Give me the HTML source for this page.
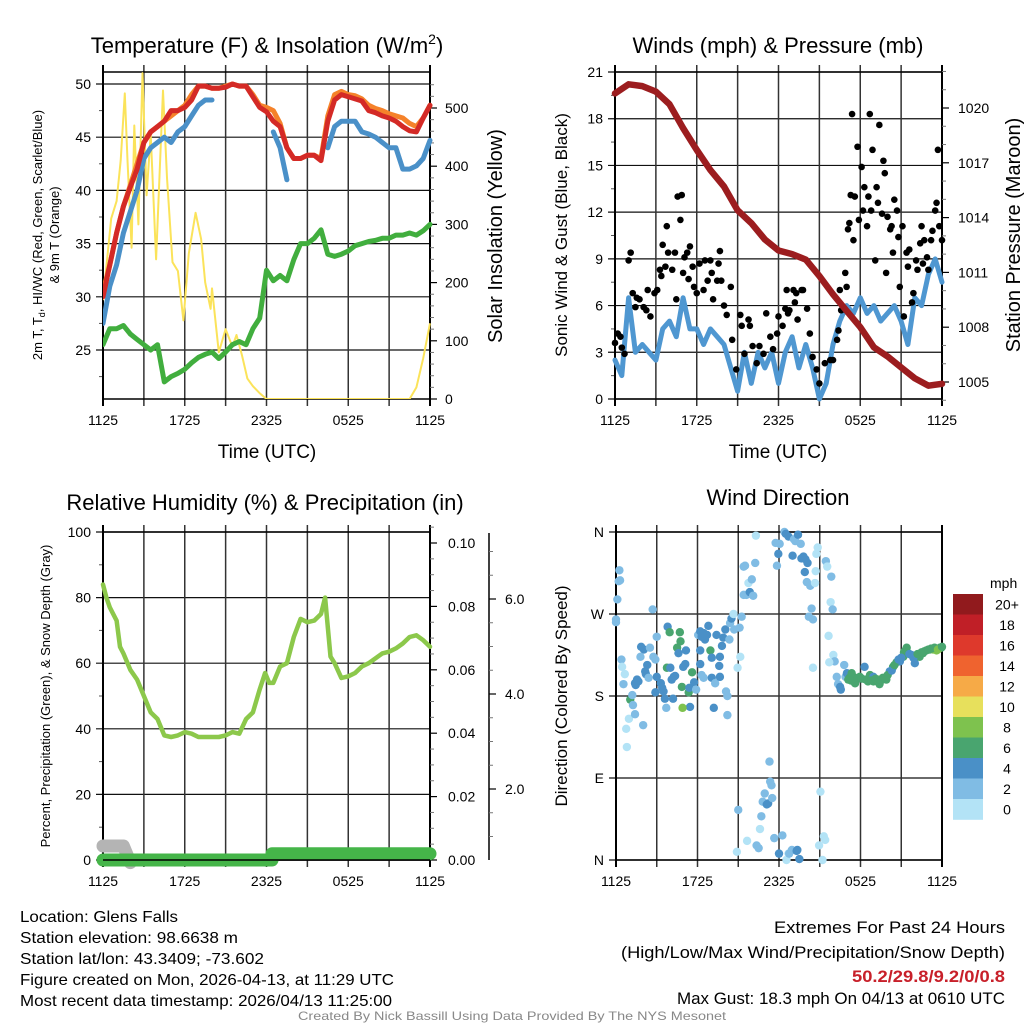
<!DOCTYPE html>
<html><head><meta charset="utf-8">
<style>
html,body{margin:0;padding:0;background:#fff;}
svg{display:block;font-family:"Liberation Sans",Arial,sans-serif;}
</style></head>
<body>
<svg id="fig" width="1024" height="1024" viewBox="0 0 1024 1024" xmlns="http://www.w3.org/2000/svg">
<rect width="1024" height="1024" fill="#fff"/>
<g id="p1"></g>
<g id="p2"></g>
<g id="p3"></g>
<g id="p4"></g>

<text x="267" y="53" font-size="22" text-anchor="middle">Temperature (F) &amp; Insolation (W/m<tspan font-size="14" dy="-9">2</tspan><tspan dy="9">)</tspan></text>
<text x="778" y="53" font-size="22" text-anchor="middle">Winds (mph) &amp; Pressure (mb)</text>
<text x="265" y="510" font-size="22" text-anchor="middle">Relative Humidity (%) &amp; Precipitation (in)</text>
<text x="778" y="505" font-size="22" text-anchor="middle">Wind Direction</text>

<text x="267" y="458" font-size="19" text-anchor="middle">Time (UTC)</text>
<text x="778" y="458" font-size="19" text-anchor="middle">Time (UTC)</text>

<text transform="translate(42,235) rotate(-90)" font-size="13" text-anchor="middle">2m T, T<tspan font-size="9" dy="3">d</tspan><tspan dy="-3">, HI/WC (Red, Green, Scarlet/Blue)</tspan></text>
<text transform="translate(59,235) rotate(-90)" font-size="13" text-anchor="middle">&amp; 9m T (Orange)</text>
<text transform="translate(502,236) rotate(-90)" font-size="20" text-anchor="middle">Solar Insolation (Yellow)</text>
<text transform="translate(567,235) rotate(-90)" font-size="17" text-anchor="middle">Sonic Wind &amp; Gust (Blue, Black)</text>
<text transform="translate(1020,235) rotate(-90)" font-size="20" text-anchor="middle">Station Pressure (Maroon)</text>
<text transform="translate(50,696) rotate(-90)" font-size="13" text-anchor="middle">Percent, Precipitation (Green), &amp; Snow Depth (Gray)</text>
<text transform="translate(567,696) rotate(-90)" font-size="17" text-anchor="middle">Direction (Colored By Speed)</text>

<g font-size="16">
<text x="20" y="922" textLength="158" lengthAdjust="spacingAndGlyphs">Location: Glens Falls</text>
<text x="20" y="943" textLength="218" lengthAdjust="spacingAndGlyphs">Station elevation: 98.6638 m</text>
<text x="20" y="964" textLength="244" lengthAdjust="spacingAndGlyphs">Station lat/lon: 43.3409; -73.602</text>
<text x="20" y="985" textLength="374" lengthAdjust="spacingAndGlyphs">Figure created on Mon, 2026-04-13, at 11:29 UTC</text>
<text x="20" y="1006" textLength="372" lengthAdjust="spacingAndGlyphs">Most recent data timestamp: 2026/04/13 11:25:00</text>
</g>
<g font-size="17" text-anchor="end">
<text x="1005" y="933" textLength="231" lengthAdjust="spacingAndGlyphs">Extremes For Past 24 Hours</text>
<text x="1005" y="958" textLength="384" lengthAdjust="spacingAndGlyphs">(High/Low/Max Wind/Precipitation/Snow Depth)</text>
<text x="1005" y="982" fill="#c8202a" font-weight="bold" textLength="153" lengthAdjust="spacingAndGlyphs">50.2/29.8/9.2/0/0.8</text>
<text x="1005" y="1004" textLength="328" lengthAdjust="spacingAndGlyphs">Max Gust: 18.3 mph On 04/13 at 0610 UTC</text>
</g>
<text x="512" y="1020" font-size="12" fill="#888" text-anchor="middle" textLength="428" lengthAdjust="spacingAndGlyphs">Created By Nick Bassill Using Data Provided By The NYS Mesonet</text>
</svg>
<script>
// ---------- DATA ----------
const timeTickLabels = ["1125","","1725","","2325","","0525","","1125"];
const halfHours = Array.from({length:49},(_, i)=>i*0.5);
const tempRed = [30,33,36,38.5,40.3,42,44.5,45.5,46,46.5,47.5,47.5,47.8,48.5,49.8,49.8,49.6,49.6,49.7,50,49.8,49.8,48.8,47.8,47.4,46.5,46,44,43,43,43.3,43.3,42.8,46.5,48.5,49,48.8,48.6,48.4,47.5,47.3,47,46.8,46.5,46,45.6,45.5,46.8,48];
const tempOrange = [30.5,33,36,38.5,40.5,42.5,44.5,45.5,46,46.5,47,47.5,48,49,49.8,49.8,49.6,49.6,49.8,50,49.8,49.8,49,48,47.8,47.5,46.3,44,43,43,43.3,43.3,43,47,49,49.3,49,48.9,48.6,48,47.7,47.5,47.2,47,46.8,46.3,46,46.8,48];
const hiwcBlue = [27.5,31,33,36,38,40,43,44,44.5,45,44.5,45.5,46,47,48,48.5,48.5,null,null,null,null,null,null,null,null,45.5,44,41,null,null,null,null,null,44,46,46.5,46.5,46.5,45.5,45.3,45,44.5,44,44,42,42,42.3,43,44.7];
const dewGreen = [25.5,27,27,27.3,26.5,26,25.5,25,25.5,22,22.5,22.8,23.2,23.8,24.3,24.6,24.8,24.2,24.8,25.5,25.8,25.5,27,28,32.5,31.5,32,31.5,33.5,35,35,35.5,36.3,34,33.8,34,34.3,34.8,35,35.2,35.3,35.5,35.5,35.8,35.8,36,35.8,36.2,36.8];
const solarHours = [0,0.3,0.6,1.0,1.3,1.6,1.8,2.1,2.3,2.6,2.9,3.2,3.5,3.9,4.4,4.7,5.1,5.5,5.9,6.3,6.8,7.2,7.5,7.9,8.0,8.5,9.0,9.5,9.8,10.2,10.6,11,11.5,12,22.5,23,23.5,24];
const solarValues = [170,240,310,340,410,525,410,260,470,300,560,350,455,240,530,380,235,220,135,250,320,275,200,155,190,80,120,90,110,75,35,22,10,0,0,20,70,130];
const tempTicks = [25,30,35,40,45,50];
const solarTicks = [0,100,200,300,400,500];

const pressureHours = Array.from({length:25},(_, i)=>i);
const pressureValues = [1020.8,1021.3,1021.2,1020.9,1020.2,1018.9,1017.7,1016.6,1015.7,1014.4,1013.7,1012.8,1012.2,1012.0,1011.7,1010.8,1009.8,1008.9,1008.0,1006.9,1006.4,1005.8,1005.2,1004.8,1004.9];
const windValues = [2.5,1.5,6.5,3,3.5,3,2.5,4.5,5,4,6.5,4.5,4.5,3.5,4.5,4,3.5,2,0.5,3,1,3,2,3,1,3,4,2,3.5,2,0,1,3.5,5,6,5.5,6.5,5.5,6,5,5.5,6,5,3.5,6.5,6,8,9,7.5];
const gustHours = [0,0.2,0.4,0.5,0.7,1.0,1.15,1.3,1.5,1.6,1.8,2.1,2.3,2.4,2.6,2.9,3.1,3.3,3.4,3.5,3.7,3.8,3.9,4.2,4.4,4.5,4.6,4.8,4.9,5.0,5.1,5.3,5.4,5.5,5.7,5.8,6.0,6.2,6.5,6.6,6.8,7.0,7.1,7.2,7.5,7.6,7.7,7.8,8.0,8.2,8.5,8.6,8.9,9.2,9.3,9.5,9.8,9.9,10.1,10.4,10.6,10.9,11.1,11.4,11.6,11.9,12.0,12.3,12.5,12.6,12.7,12.8,13.1,13.2,13.3,13.4,13.7,13.8,14.1,14.3,14.5,14.8,15.0,15.4,15.8,16.0,16.3,16.4,16.5,16.6,16.9,17.0,17.1,17.2,17.3,17.4,17.5,17.6,17.8,17.9,18.1,18.2,18.3,18.5,18.6,18.7,18.8,18.9,19.1,19.2,19.3,19.4,19.6,19.7,19.8,19.9,20.0,20.2,20.3,20.4,20.5,20.7,20.8,20.9,21.1,21.2,21.4,21.5,21.6,21.8,21.9,22.1,22.2,22.4,22.5,22.6,22.7,22.9,23.0,23.2,23.3,23.5,23.6,23.7,23.8,24.0];
const gustValues = [3.6,4.2,4,3.3,2.9,8.9,9.4,6.8,5.9,6.5,6.4,5.9,5.7,7,5.3,6.8,7,8.3,7.9,9.9,8.5,11.1,9.4,8.3,9.4,6.4,13,11.5,13.1,8.1,9.1,9.4,7.7,9.8,8.5,7.2,6.8,8.7,7,8.9,7.6,8.9,8.1,6.4,7.6,8.7,9.5,7.6,6,5.4,7.2,3.8,1.9,5.4,4.7,2.9,5.1,4.7,3.4,2.3,3.4,2.9,5.5,4,3.2,4.2,5.3,4.7,5.8,7,5.5,5.7,7,6.2,6.8,5.1,7,7,5.8,4.2,2.7,1.9,1,2.3,2.5,2.5,3.8,4.4,7,5.7,8.1,7.2,10.9,11.3,13.1,18.3,10.2,13,16.2,11.5,14.9,12.1,13.6,11.1,13,18.3,12.1,16,8.9,13.6,12.6,17.6,11.9,15.3,14.5,8.1,11.7,10.9,11.1,9.4,12.8,12.1,10.4,7.2,11.1,5.3,9.4,8.5,9.6,6.2,6.8,8.9,8.3,10,11.1,8.7,10.2,9.1,8.3,10.2,10.8,12.1,12.6,16,11.1,10.2];
const windTicks = [0,3,6,9,12,15,18,21];
const pressureTicks = [1005,1008,1011,1014,1017,1020];

const rhHours = [0,0.25,0.5,1,1.25,1.5,2,2.5,3,3.5,4,4.5,5,5.5,6,6.5,7,7.5,8,8.5,9,9.5,10,10.5,11,11.5,11.9,12.2,12.5,13,13.5,14,14.5,15,15.5,16,16.3,16.7,17,17.5,18,18.5,19,19.5,20,20.5,21,21.5,22,22.5,23,23.5,24];
const rhValues = [84,80,77,73,65,63,58,55,50,45,43,38,37.5,38,39,38.5,37.5,37.5,37.5,37.5,38,39,38.5,43,45,52,57,54,54,59,60,68,73.5,72.5,73,75,80,62,60,55.5,56,57,59,60,61.5,63,63.5,64.5,66,68,68.5,67,65];
const precipHours = [0,12.4,12.4,24];
const precipValues = [0,0,0.002,0.002];
const snowHours = [0,1.5,2.0];
const snowValues = [0.8,0.8,0.45];
const rhTicks = [0,20,40,60,80,100];
const precipTicks = ["0.00","0.02","0.04","0.06","0.08","0.10"];
const snowTicks = ["2.0","4.0","6.0"];

const dirLabels = ["N","E","S","W","N"];
const wdHours = [0.25,0.2,0.3,0.1,0,0,0.4,0.45,0.65,0.55,1.05,1.2,1.25,1.55,1.4,1.65,1.45,0.95,0.75,0.8,1.4,2.0,1.85,2.05,1.8,2.3,2.15,2.2,2.4,2.5,2.7,3.0,2.75,2.9,3.0,3.3,3.4,2.9,3.5,3.6,3.7,3.8,3.95,3.75,4.0,4.1,4.25,4.35,4.2,4.5,4.7,4.75,4.6,4.85,4.95,5.1,5.15,5.35,5.4,5.45,5.6,5.75,4.9,5.9,6.05,6.2,6.3,6.45,6.55,6.7,6.8,6.2,6.2,6.3,6.45,6.95,7.05,7.05,7.2,7.3,7.4,7.65,7.6,7.65,7.8,7.9,8.05,8.1,8.2,8.2,8.35,8.4,8.5,8.65,8.7,8.95,9.15,9.1,9.25,9.0,8.9,9.4,9.6,9.75,9.85,10.0,10.1,10.25,9.4,9.5,10.3,9.65,10.35,10.5,10.6,10.7,10.8,10.95,11.1,11.2,11.3,11.35,11.45,11.5,11.65,11.75,11.85,11.95,12.0,12.05,12.25,12.4,12.5,12.55,12.7,12.7,12.75,12.95,13.0,13.1,13.2,13.3,13.35,13.4,13.5,13.6,13.65,13.8,13.9,13.95,14.05,14.1,14.3,14.4,14.2,14.5,14.65,14.7,14.75,14.85,14.5,15.05,15.3,15.4,14.95,15.2,15.45,15.55,15.65,15.8,15.85,15.95,16.0,16.1,15.7,16.25,16.35,16.5,16.55,16.8,16.9,17.0,17.2,17.45,17.7,17.95,18.3,18.55,18.7,18.95,19.3,19.4,19.65,19.9,20.15,20.4,20.65,20.9,21.15,21.4,21.5,21.75,22.0,22.1,22.35,22.6,22.85,23.1,23.35,23.6,23.85,23.95,23.45,21.2,18.95,17.6,17.35,17.1,17.3,17.8,18.1,18.4,18.8,19.1,19.5,19.8,20.0,20.3,20.5,20.8,21.0,21.3,21.6,21.9,22.2,22.5,22.7,23.0,23.2,23.7,24.0];
const wdDegrees = [318,306,307,286,261,264,220,212,204,193,176,181,170,198,194,196,192,155,144,124,160,148,234,231,223,214,207,204,200,233,275,245,223,220,201,194,189,184,185,177,167,256,250,211,211,198,201,202,177,233,250,240,227,190,212,215,230,184,189,168,206,195,167,187,247,251,245,249,242,247,257,230,215,203,200,230,222,200,167,194,247,223,213,201,235,244,253,185,180,159,242,260,265,270,253,211,223,255,267,55,9,291,291,304,294,308,290,326,322,323,356,21,16,13,34,48,64,73,61,62,108,86,82,68,24,348,323,336,7,347,27,360,358,0,355,7,7,11,334,352,350,10,11,357,1,347,331,333,316,330,305,326,301,276,267,264,304,317,336,343,211,75,26,22,16,0,328,322,246,283,311,275,225,218,217,201,193,190,187,214,201,205,200,201,198,201,212,196,203,196,198,193,200,198,207,212,217,218,223,233,227,225,216,223,223,227,230,231,231,230,233,233,233,228,201,194,205,198,197,200,199,198,197,199,197,200,203,208,214,220,222,230,226,222,226,228,229,231,232,231,234];
const wdSpeeds = [3,3,3,3,3,3,3,1,1,3,7,3,3,5,5,5,5,1,1,1,3,3,5,5,3,5,5,5,3,3,3,3,3,3,5,5,5,5,5,5,3,5,7,7,5,5,5,5,5,7,7,7,5,7,5,5,5,7,5,5,7,5,9,3,3,5,5,5,5,5,5,5,5,3,3,7,5,5,5,3,5,5,5,5,5,5,5,3,3,3,3,3,5,1,3,1,1,3,3,3,1,3,3,1,5,3,3,3,3,3,1,1,3,3,1,3,3,3,5,5,3,3,3,3,3,3,3,5,5,3,3,3,5,1,5,1,3,3,5,3,3,5,5,5,5,3,5,5,5,5,3,5,3,3,3,3,1,1,1,1,1,1,1,1,1,1,3,1,1,1,3,3,1,3,1,3,3,5,5,3,3,5,7,7,7,7,5,7,7,7,9,7,7,7,5,7,7,5,7,7,7,5,5,5,7,7,7,7,9,9,7,7,7,7,5,7,7,7,7,7,7,7,7,7,7,7,7,5,7,5,5,7,5,5,7,7,7,7,7,9,7];
const speedLabels = ["0","2","4","6","8","10","12","14","16","18","20+"];
const speedColors = ["#b3e3f6","#80bce4","#4a90c7","#49a56f","#7ec24e","#e7e05c","#f6aa47","#ef632f","#de392c","#c01f27","#911a1d"];

// ---------- HELPERS ----------
const NS = "http://www.w3.org/2000/svg";
function mk(parent, tag, attrs){ const e=document.createElementNS(NS,tag); for(const k in attrs) e.setAttribute(k,attrs[k]); parent.appendChild(e); return e; }
function lin(d0,d1,r0,r1){ return v=>r0+(v-d0)*(r1-r0)/(d1-d0); }
function pathD(xs, ys, sx, sy){
  let d="", pen=false;
  for(let i=0;i<xs.length;i++){
    if(ys[i]===null||ys[i]===undefined){pen=false;continue;}
    d+=(pen?"L":"M")+sx(xs[i]).toFixed(1)+","+sy(ys[i]).toFixed(1); pen=true;
  }
  return d;
}
function frame(g, x0,x1,y0,y1, hTicks, sy, leftLabels, leftMinor){
  hTicks.forEach((v,i)=>{
    const y=sy(v);
    const l=mk(g,"line",{x1:x0-7,x2:x1,y1:y,y2:y,stroke:"#111","stroke-width":1.2});
    
    
    const t=mk(g,"text",{x:x0-12,y:y+5,"font-size":14,"text-anchor":"end"});
    t.textContent=leftLabels[i];
    
    
  });
  (leftMinor||[]).forEach(v=>{
    const y=sy(v);
    const l=mk(g,"line",{x1:x0-4,x2:x0,y1:y,y2:y,stroke:"#555","stroke-width":1});
    
    
  });
  const sx=lin(0,24,x0,x1);
  for(let i=0;i<=8;i++){
    const x=sx(i*3);
    const l=mk(g,"line",{x1:x,x2:x,y1:y0-7,y2:y1+7,stroke:(i==0||i==8)?"#000":"#333","stroke-width":(i==0||i==8)?2:1.5});
    
    
    if(timeTickLabels[i]){
      const t=mk(g,"text",{x:x,y:y1+26,"font-size":14,"text-anchor":"middle"});
      t.textContent=timeTickLabels[i];
      
      
    }
  }
  const tl=mk(g,"line",{x1:x0,x2:x1,y1:y0,y2:y0,stroke:"#000","stroke-width":1.5});
  
  
  const bl=mk(g,"line",{x1:x0,x2:x1,y1:y1,y2:y1,stroke:"#000","stroke-width":1.5});
  
  
  return sx;
}
function rightAxis(g, x, vals, labels, sy, minor, lx){
  vals.forEach((v,i)=>{
    const y=sy(v);
    const l=mk(g,"line",{x1:x,x2:x+7,y1:y,y2:y,stroke:"#000","stroke-width":1.2});
    
    
    const t=mk(g,"text",{x:lx,y:y+5,"font-size":14});
    t.textContent=labels[i];
    
    
  });
  minor.forEach(v=>{
    const y=sy(v);
    const l=mk(g,"line",{x1:x,x2:x+4,y1:y,y2:y,stroke:"#777","stroke-width":1});
    
    
  });
}
function range(a,b,s){const r=[];for(let v=a;v<=b+1e-9;v+=s)r.push(+v.toFixed(4));return r;}

// ---------- PANEL 1: TEMPERATURE ----------
(function(){
  const g=document.getElementById("p1");
  const x0=103,x1=430,y0=72,y1=399;
  const sy=lin(25,50,350,84);
  const sSolar=lin(0,500,399,108);
  const sx=frame(g,x0,x1,y0,y1,tempTicks,sy,tempTicks.map(String),range(22.5,50,2.5).filter(v=>v%5));
  rightAxis(g,x1,solarTicks,solarTicks.map(String),sSolar,range(20,540,20).filter(v=>v%100),445);
  const clip=mk(g,"clipPath",{id:"c1"}); mk(clip,"rect",{x:x0,y:y0-4,width:x1-x0+4,height:y1-y0+4});
  const pg=mk(g,"g",{"clip-path":"url(#c1)"});
  const sol=mk(pg,"path",{d:pathD(solarHours,solarValues,sx,sSolar),fill:"none",stroke:"#fbe35a","stroke-width":2,"stroke-linejoin":"round"});
  
  
  const dg=mk(pg,"path",{d:pathD(halfHours,dewGreen,sx,sy),fill:"none",stroke:"#41ae3e","stroke-width":5,"stroke-linejoin":"round","stroke-linecap":"round"});
  
  
  const bw=mk(pg,"path",{d:pathD(halfHours,hiwcBlue,sx,sy),fill:"none",stroke:"#4a90c8","stroke-width":5,"stroke-linejoin":"round","stroke-linecap":"round"});
  
  
  const og=mk(pg,"path",{d:pathD(halfHours,tempOrange,sx,sy),fill:"none",stroke:"#f5822a","stroke-width":5,"stroke-linejoin":"round","stroke-linecap":"round"});
  
  
  const rd=mk(pg,"path",{d:pathD(halfHours,tempRed,sx,sy),fill:"none",stroke:"#d42a26","stroke-width":5,"stroke-linejoin":"round","stroke-linecap":"round"});
  
  
})();

// ---------- PANEL 2: WINDS ----------
(function(){
  const g=document.getElementById("p2");
  const x0=615,x1=942,y0=72,y1=399;
  const sy=lin(0,21,399,72);
  const sp=lin(1005,1020,382,108);
  const sx=frame(g,x0,x1,y0,y1,windTicks,sy,windTicks.map(String),range(1.5,19.5,3));
  rightAxis(g,x1,pressureTicks,pressureTicks.map(String),sp,range(1004,1022,1).filter(v=>(v-1005)%3),958);
  const w=mk(g,"path",{d:pathD(halfHours,windValues,sx,sy),fill:"none",stroke:"#4f97d1","stroke-width":5,"stroke-linejoin":"round","stroke-linecap":"round"});
  
  
  gustHours.forEach((h,i)=>{
    const c=mk(g,"circle",{cx:sx(h),cy:sy(gustValues[i]),r:3.3,fill:"#000"});
    
    
  });
  const p=mk(g,"path",{d:pathD(pressureHours,pressureValues,sx,sp),fill:"none",stroke:"#9c1d1f","stroke-width":6.5,"stroke-linejoin":"round","stroke-linecap":"round"});
  
  
})();

// ---------- PANEL 3: HUMIDITY ----------
(function(){
  const g=document.getElementById("p3");
  const x0=103,x1=430,y0=532,y1=860;
  const sy=lin(0,100,860,532);
  const spr=lin(0,0.1,860,543);
  const ssn=lin(2,6,789,599);
  const sx=frame(g,x0,x1,y0,y1,rhTicks,sy,rhTicks.map(String),range(10,90,20));
  rightAxis(g,x1,precipTicks.map(Number),precipTicks,spr,range(0.005,0.105,0.005).filter(v=>Math.round(v*1000)%20),448);
  const ax=mk(g,"line",{x1:489,x2:489,y1:533,y2:860,stroke:"#000","stroke-width":1.5});
  
  
  rightAxis(g,489,snowTicks.map(Number),snowTicks,ssn,range(1,7,0.5).filter(v=>v%2).filter(v=>ssn(v)>=533&&ssn(v)<=860),505);
  const rh=mk(g,"path",{d:pathD(rhHours,rhValues,sx,sy),fill:"none",stroke:"#8cc84b","stroke-width":4.5,"stroke-linejoin":"round","stroke-linecap":"round"});
  
  
  const sn=mk(g,"path",{d:pathD(snowHours,snowValues,sx,ssn),fill:"none",stroke:"#b4b4b4","stroke-width":13,"stroke-linejoin":"round","stroke-linecap":"round"});
  
  
  const pr=mk(g,"path",{d:pathD(precipHours.slice(0,2),precipValues.slice(0,2),sx,spr)+pathD(precipHours.slice(2),precipValues.slice(2),sx,spr),fill:"none",stroke:"#45b549","stroke-width":13,"stroke-linecap":"round"});
  
  
  const bl=mk(g,"line",{x1:x0,x2:x1,y1:y1,y2:y1,stroke:"#000","stroke-width":1.5});
  
  
})();

// ---------- PANEL 4: WIND DIRECTION ----------
(function(){
  const g=document.getElementById("p4");
  const x0=616,x1=942,y0=532,y1=860;
  const sy=lin(0,360,860,532);
  const sx=frame(g,x0,x1,y0,y1,[0,90,180,270,360],sy,dirLabels,[]);
  wdHours.forEach((h,i)=>{
    const k=Math.min(10,Math.floor(wdSpeeds[i]/2));
    const c=mk(g,"circle",{cx:sx(h),cy:sy(wdDegrees[i]),r:4.2,fill:speedColors[k]});
    
    
  });
  const cb=mk(g,"g",{});
  
  
  const t=mk(cb,"text",{x:990,y:588,"font-size":14});
  t.textContent="mph";
  
  
  const top=594, bh=20.5;
  for(let j=0;j<11;j++){
    const k=10-j;
    const r=mk(cb,"rect",{x:953,y:top+j*bh,width:30,height:bh+0.3,fill:speedColors[k]});
    
    
    const tx=mk(cb,"text",{x:1007,y:top+j*bh+bh/2+5,"font-size":14,"text-anchor":"middle"});
    tx.textContent=speedLabels[k];
    
    
  }
})();
</script>
</body></html>
